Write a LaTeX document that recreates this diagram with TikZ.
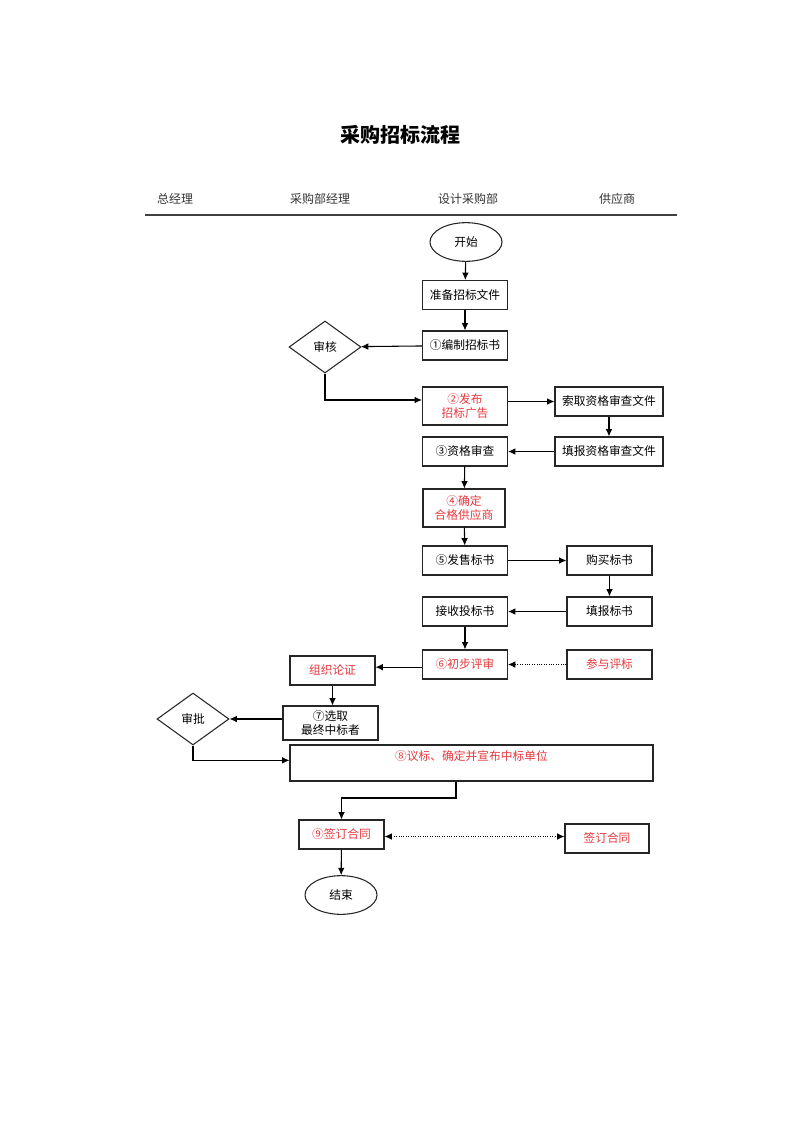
\documentclass[tikz,border=0pt]{standalone}
\usepackage{fontspec}
\setmainfont{Liberation Serif}
\newfontfamily\cjk{Noto Sans CJK SC}
\usepackage{xcolor}
\usetikzlibrary{positioning, calc, shapes.geometric, arrows.meta}
\definecolor{FlowRed}{rgb}{0.90,0.22,0.24}
\definecolor{FlowLine}{rgb}{0.15,0.15,0.15}
\tikzset{
    stepbox/.style={
        rectangle,
        minimum height=21.75pt,
        minimum width=63.75pt,
        inner sep=1pt,
        align=center,
        draw=FlowLine,
        line width=0.8pt,
        font=\cjk\fontsize{8.8}{11}\selectfont
    },
    keybox/.style={stepbox, text=FlowRed},
    term/.style={ellipse, minimum width=54pt, minimum height=29pt, inner sep=0pt, draw=FlowLine, line width=0.8pt, font=\cjk\fontsize{8.8}{11}\selectfont},
    check/.style={diamond, minimum width=54pt, minimum height=39pt, inner sep=0pt, draw=FlowLine, line width=0.8pt, font=\cjk\fontsize{8.8}{11}\selectfont},
    lane/.style={font=\cjk\fontsize{9}{11}\selectfont, text=black!80},
    arrow/.style={-{Latex[length=5.5pt,width=5pt]}, line width=0.8pt, draw=black},
    dotarrow/.style={arrow, line width=0.7pt, dash pattern=on 0.8pt off 1pt}
}

\begin{document}
\begin{tikzpicture}[x=0.75pt, y=-0.75pt]
\useasboundingbox (0,0) rectangle (800,1131);

% Title
\node[font=\cjk\bfseries\fontsize{15}{18}\selectfont] (title) at (400,135) {采购招标流程};

% Lanes
\node[lane] (h_gm) at (175,199) {总经理};
\node[lane] (h_pm) at (320,199) {采购部经理};
\node[lane] (h_dp) at (468,199) {设计采购部};
\node[lane] (h_sup) at (617,199) {供应商};
\coordinate (rule_l) at (145,215);
\coordinate (rule_r) at (677,215);
\draw[line width=0.9pt, draw=black!75] (rule_l) -- (rule_r);

% Design purchasing column
\node[term] (n_start) at (466,242) {开始};
\node[stepbox] (n_prep) at (465,295) {准备招标文件};
\node[stepbox] (n_one) at (465,345.5) {①编制招标书};
\node[keybox, minimum height=28.5pt] (n_two) at (465,406) {②发布\\招标广告};
\node[stepbox] (n_three) at (465,451.5) {③资格审查};
\node[keybox, minimum height=28.5pt, minimum width=61.5pt] (n_four) at (464,508) {④确定\\合格供应商};
\node[stepbox] (n_five) at (465,560.5) {⑤发售标书};
\node[stepbox] (n_recv) at (465,611.5) {接收投标书};
\node[keybox] (n_six) at (465,664.5) {⑥初步评审};

% Purchasing manager column
\node[check] (n_audit) at (325,347) {审核};
\node[keybox] (n_org) at (332.5,670.5) {组织论证};
\node[stepbox, minimum width=71.25pt, minimum height=25.5pt] (n_seven) at (330.5,723) {⑦选取\\最终中标者};
\node[stepbox, minimum width=272.25pt, minimum height=27pt,
      label={[font=\cjk\fontsize{8.8}{11}\selectfont, text=FlowRed, anchor=north, inner sep=1pt, yshift=-3pt]north:⑧议标、确定并宣布中标单位}] (n_eight) at (471.5,763) {};
\node[keybox] (n_nine) at (341.5,834.5) {⑨签订合同};
\node[term] (n_end) at (341,895) {结束};

% General manager column
\node[check] (n_approve) at (193,719) {审批};

% Supplier column
\node[stepbox, minimum width=81pt] (n_fetch) at (609,401.5) {索取资格审查文件};
\node[stepbox, minimum width=81pt] (n_fill) at (609,451.5) {填报资格审查文件};
\node[stepbox] (n_buy) at (609.5,560.5) {购买标书};
\node[stepbox] (n_fillbid) at (609.5,611.5) {填报标书};
\node[keybox] (n_join) at (609.5,664.5) {参与评标};
\node[keybox, minimum width=63pt] (n_sign) at (607,838.5) {签订合同};

% Arrows
\draw[arrow] (n_start) -- (n_prep);
\draw[arrow] (n_prep) -- (n_one);
\draw[arrow] (n_one) -- (n_audit);
\draw[arrow] (n_audit.south) |- ([yshift=4.5pt]n_two.west);
\draw[arrow] (n_two.east |- n_fetch.west) -- (n_fetch.west);
\draw[arrow] (n_fetch) -- (n_fill);
\draw[arrow] (n_fill) -- (n_three);
\draw[arrow] (n_three) -- (n_four);
\draw[arrow] (n_four) -- (n_five);
\draw[arrow] (n_five) -- (n_buy);
\draw[arrow] (n_buy) -- (n_fillbid);
\draw[arrow] (n_fillbid) -- (n_recv);
\draw[arrow] (n_recv) -- (n_six);
\draw[dotarrow] (n_join) -- (n_six);
\draw[arrow] ([yshift=-2pt]n_six.west) -- ([yshift=-2pt]n_six.west -| n_org.east);
\draw[arrow] (n_org.south) -- (n_org.south |- n_seven.north);
\draw[arrow] (n_seven.west |- n_approve) -- (n_approve.east);
\draw[arrow] (n_approve.south) |- ([yshift=2pt]n_eight.west);

\coordinate (c_bend) at (456,798);
\draw[arrow] (n_eight.south -| c_bend) -- (c_bend) -| (n_nine.north);
\draw[dotarrow, {Latex[length=5.5pt,width=5pt]}-{Latex[length=5.5pt,width=5pt]}] ([yshift=-1.5pt]n_nine.east) -- ([yshift=-1.5pt]n_nine.east -| n_sign.west);
\draw[arrow] (n_nine) -- (n_end);

\end{tikzpicture}
\end{document}
